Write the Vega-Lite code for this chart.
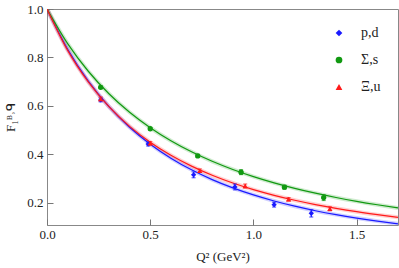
{
  "$schema": "https://vega.github.io/schema/vega-lite/v6.json",
  "autosize": "none",
  "width": 351,
  "height": 216,
  "padding": {"left": 47, "top": 9, "right": 1, "bottom": 43},
  "background": "white",
  "config": {
    "view": {"stroke": "#888888", "strokeWidth": 1},
    "axis": {"domain": false, "grid": false, "labelFlush": false, "labelFont": "Liberation Serif", "labelFontSize": 13, "labelColor": "#222", "ticks": true, "tickColor": "#777777", "tickWidth": 1, "titleFont": "Liberation Serif", "titleFontSize": 13, "titleFontWeight": "normal", "titleColor": "#222"},
    "legend": {"labelFont": "Liberation Serif", "labelFontSize": 14, "labelColor": "#222"}
  },
  "datasets": {
    "curves": [
      {"q2": 0.0, "F": 1.0, "series": "p,d"}, {"q2": 0.1, "F": 0.8337, "series": "p,d"}, {"q2": 0.2, "F": 0.7023, "series": "p,d"}, {"q2": 0.3, "F": 0.5972, "series": "p,d"}, {"q2": 0.4, "F": 0.512, "series": "p,d"}, {"q2": 0.5, "F": 0.4423, "series": "p,d"}, {"q2": 0.6, "F": 0.3847, "series": "p,d"}, {"q2": 0.7, "F": 0.3366, "series": "p,d"}, {"q2": 0.8, "F": 0.2963, "series": "p,d"}, {"q2": 0.9, "F": 0.2621, "series": "p,d"}, {"q2": 1.0, "F": 0.233, "series": "p,d"}, {"q2": 1.1, "F": 0.2081, "series": "p,d"}, {"q2": 1.2, "F": 0.1866, "series": "p,d"}, {"q2": 1.3, "F": 0.1679, "series": "p,d"}, {"q2": 1.4, "F": 0.1517, "series": "p,d"}, {"q2": 1.5, "F": 0.1375, "series": "p,d"}, {"q2": 1.6, "F": 0.125, "series": "p,d"}, {"q2": 1.7, "F": 0.114, "series": "p,d"},
      {"q2": 0.0, "F": 1.0, "series": "Σ,s"}, {"q2": 0.1, "F": 0.8573, "series": "Σ,s"}, {"q2": 0.2, "F": 0.7432, "series": "Σ,s"}, {"q2": 0.3, "F": 0.6504, "series": "Σ,s"}, {"q2": 0.4, "F": 0.5739, "series": "Σ,s"}, {"q2": 0.5, "F": 0.5102, "series": "Σ,s"}, {"q2": 0.6, "F": 0.4565, "series": "Σ,s"}, {"q2": 0.7, "F": 0.4109, "series": "Σ,s"}, {"q2": 0.8, "F": 0.3718, "series": "Σ,s"}, {"q2": 0.9, "F": 0.338, "series": "Σ,s"}, {"q2": 1.0, "F": 0.3086, "series": "Σ,s"}, {"q2": 1.1, "F": 0.2829, "series": "Σ,s"}, {"q2": 1.2, "F": 0.2603, "series": "Σ,s"}, {"q2": 1.3, "F": 0.2403, "series": "Σ,s"}, {"q2": 1.4, "F": 0.2225, "series": "Σ,s"}, {"q2": 1.5, "F": 0.2066, "series": "Σ,s"}, {"q2": 1.6, "F": 0.1924, "series": "Σ,s"}, {"q2": 1.7, "F": 0.1795, "series": "Σ,s"},
      {"q2": 0.0, "F": 1.0, "series": "Ξ,u"}, {"q2": 0.1, "F": 0.8294, "series": "Ξ,u"}, {"q2": 0.2, "F": 0.699, "series": "Ξ,u"}, {"q2": 0.3, "F": 0.5971, "series": "Ξ,u"}, {"q2": 0.4, "F": 0.516, "series": "Ξ,u"}, {"q2": 0.5, "F": 0.4503, "series": "Ξ,u"}, {"q2": 0.6, "F": 0.3964, "series": "Ξ,u"}, {"q2": 0.7, "F": 0.3517, "series": "Ξ,u"}, {"q2": 0.8, "F": 0.3141, "series": "Ξ,u"}, {"q2": 0.9, "F": 0.2822, "series": "Ξ,u"}, {"q2": 1.0, "F": 0.255, "series": "Ξ,u"}, {"q2": 1.1, "F": 0.2315, "series": "Ξ,u"}, {"q2": 1.2, "F": 0.2111, "series": "Ξ,u"}, {"q2": 1.3, "F": 0.1933, "series": "Ξ,u"}, {"q2": 1.4, "F": 0.1777, "series": "Ξ,u"}, {"q2": 1.5, "F": 0.1638, "series": "Ξ,u"}, {"q2": 1.6, "F": 0.1516, "series": "Ξ,u"}, {"q2": 1.7, "F": 0.1406, "series": "Ξ,u"}
    ],
    "points": [
      {"q2": 0.26, "F": 0.625, "err": 0.008, "series": "p,d"},
      {"q2": 0.49, "F": 0.443, "err": 0.008, "series": "p,d"},
      {"q2": 0.71, "F": 0.316, "err": 0.012, "series": "p,d"},
      {"q2": 0.91, "F": 0.266, "err": 0.012, "series": "p,d"},
      {"q2": 1.10, "F": 0.193, "err": 0.01, "series": "p,d"},
      {"q2": 1.28, "F": 0.157, "err": 0.015, "series": "p,d"},
      {"q2": 0.26, "F": 0.677, "err": 0.005, "series": "Σ,s"},
      {"q2": 0.50, "F": 0.506, "err": 0.005, "series": "Σ,s"},
      {"q2": 0.73, "F": 0.394, "err": 0.006, "series": "Σ,s"},
      {"q2": 0.94, "F": 0.327, "err": 0.01, "series": "Σ,s"},
      {"q2": 1.15, "F": 0.265, "err": 0.008, "series": "Σ,s"},
      {"q2": 1.34, "F": 0.222, "err": 0.012, "series": "Σ,s"},
      {"q2": 0.26, "F": 0.629, "err": 0.008, "series": "Ξ,u"},
      {"q2": 0.50, "F": 0.446, "err": 0.007, "series": "Ξ,u"},
      {"q2": 0.74, "F": 0.333, "err": 0.007, "series": "Ξ,u"},
      {"q2": 0.96, "F": 0.270, "err": 0.008, "series": "Ξ,u"},
      {"q2": 1.17, "F": 0.215, "err": 0.007, "series": "Ξ,u"},
      {"q2": 1.37, "F": 0.176, "err": 0.008, "series": "Ξ,u"}
    ]
  },
  "layer": [
    {
      "data": {"name": "curves"},
      "mark": {"type": "line", "strokeWidth": 4, "opacity": 0.2, "interpolate": "monotone", "clip": true},
      "encoding": {
        "x": {"field": "q2", "type": "quantitative", "title": "Q² (GeV²)", "scale": {"domain": [0, 1.7], "nice": false},
          "axis": {"orient": "bottom", "ticks": true, "titlePadding": 9, "values": [0, 0.5, 1.0, 1.5], "format": ".1f", "labelPadding": 9, "tickSize": -6}},
        "y": {"field": "F", "type": "quantitative", "title": "F₁ᴮ˒ᑫ", "scale": {"domain": [0.109, 1.0], "nice": false, "zero": false},
          "axis": {"orient": "left", "ticks": true, "titlePadding": 9, "values": [0.2, 0.4, 0.6, 0.8, 1.0], "format": ".1f", "labelPadding": 10, "tickSize": -6}},
        "color": {"field": "series", "type": "nominal", "scale": {"domain": ["p,d", "Σ,s", "Ξ,u"], "range": ["#1a1aff", "#119911", "#ff1a1a"]}, "legend": null}
      }
    },
    {
      "data": {"name": "curves"},
      "mark": {"type": "line", "strokeWidth": 1.2, "interpolate": "monotone", "clip": true},
      "encoding": {
        "x": {"field": "q2", "type": "quantitative", "title": "Q² (GeV²)",
          "axis": {"orient": "bottom", "ticks": true, "titlePadding": 9, "values": [0, 0.5, 1.0, 1.5], "format": ".1f", "labelPadding": 9, "tickSize": -6}},
        "y": {"field": "F", "type": "quantitative", "title": "F₁ᴮ˒ᑫ",
          "axis": {"orient": "left", "ticks": true, "titlePadding": 9, "values": [0.2, 0.4, 0.6, 0.8, 1.0], "format": ".1f", "labelPadding": 10, "tickSize": -6}},
        "color": {"field": "series", "type": "nominal", "legend": null}
      }
    },
    {
      "data": {"name": "points"},
      "mark": {"type": "errorbar", "ticks": {"size": 4}, "thickness": 1.2},
      "encoding": {
        "x": {"field": "q2", "type": "quantitative", "title": "Q² (GeV²)",
          "axis": {"orient": "bottom", "ticks": true, "titlePadding": 9, "values": [0, 0.5, 1.0, 1.5], "format": ".1f", "labelPadding": 9, "tickSize": -6}},
        "y": {"field": "F", "type": "quantitative", "title": "F₁ᴮ˒ᑫ",
          "axis": {"orient": "left", "ticks": true, "titlePadding": 9, "values": [0.2, 0.4, 0.6, 0.8, 1.0], "format": ".1f", "labelPadding": 10, "tickSize": -6}},
        "yError": {"field": "err"},
        "color": {"field": "series", "type": "nominal", "legend": null}
      }
    },
    {
      "data": {"name": "points"},
      "mark": {"type": "point", "filled": true, "opacity": 1, "size": 28},
      "encoding": {
        "x": {"field": "q2", "type": "quantitative", "title": "Q² (GeV²)",
          "axis": {"orient": "bottom", "ticks": true, "titlePadding": 9, "values": [0, 0.5, 1.0, 1.5], "format": ".1f", "labelPadding": 9, "tickSize": -6}},
        "y": {"field": "F", "type": "quantitative", "title": "F₁ᴮ˒ᑫ",
          "axis": {"orient": "left", "ticks": true, "titlePadding": 9, "values": [0.2, 0.4, 0.6, 0.8, 1.0], "format": ".1f", "labelPadding": 10, "tickSize": -6}},
        "color": {"field": "series", "type": "nominal", "legend": {"title": null, "orient": "none", "legendX": 285, "legendY": 17, "rowPadding": 13, "symbolSize": 45, "labelOffset": 15}},
        "shape": {"field": "series", "type": "nominal", "scale": {"domain": ["p,d", "Σ,s", "Ξ,u"], "range": ["diamond", "circle", "triangle-up"]}, "legend": {"title": null, "orient": "none", "legendX": 285, "legendY": 17, "rowPadding": 13, "symbolSize": 45, "labelOffset": 15}}
      }
    }
  ],
  "resolve": {"legend": {"color": "independent", "shape": "independent"}}
}
